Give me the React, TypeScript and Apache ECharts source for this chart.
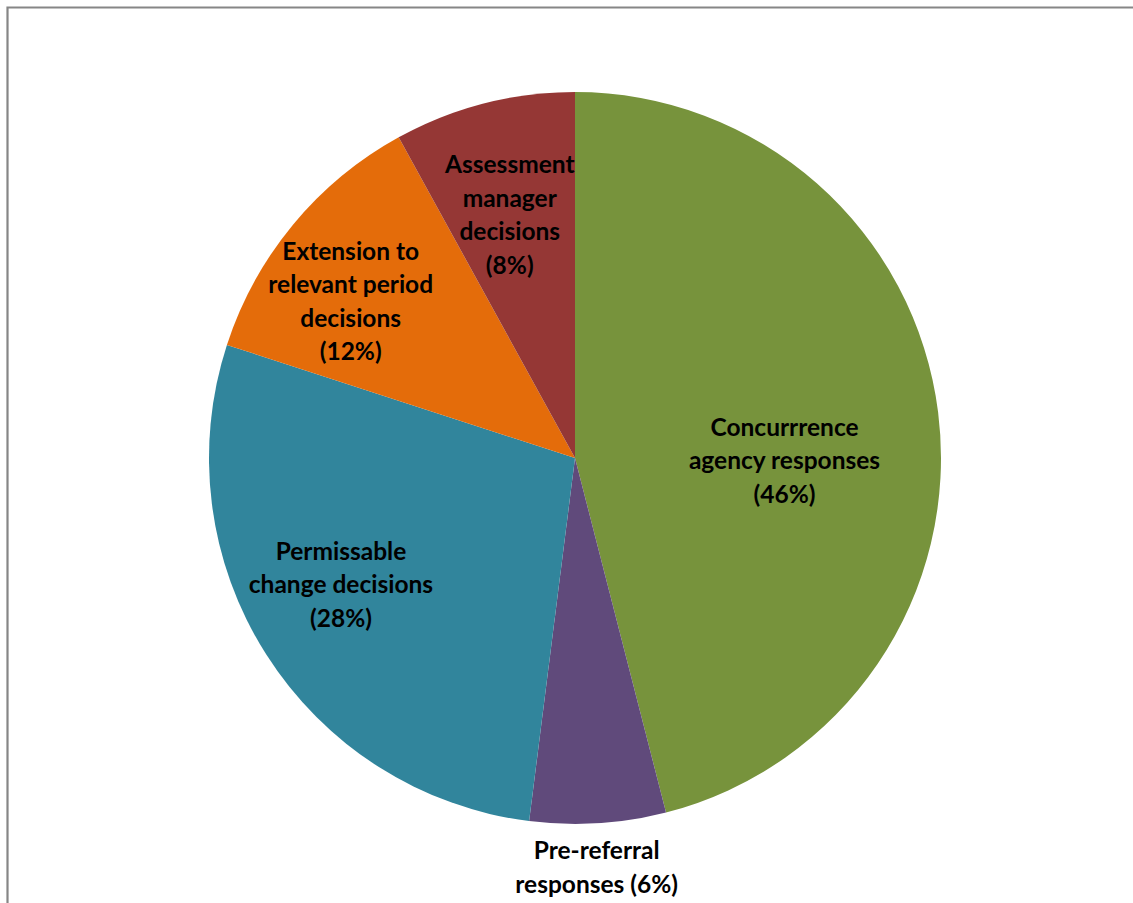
import React, { useEffect, useRef } from "react";
import * as echarts from "echarts";

const categories = [
  "Concurrrence agency responses",
  "Pre-referral responses",
  "Permissable change decisions",
  "Extension to relevant period decisions",
  "Assessment manager decisions",
];
const values = [46, 6, 28, 12, 8];
const labelLines = [
  ["Concurrrence", "agency responses", "(46%)"],
  ["Pre-referral", "responses (6%)"],
  ["Permissable", "change decisions", "(28%)"],
  ["Extension to", "relevant period", "decisions", "(12%)"],
  ["Assessment", "manager", "decisions", "(8%)"],
];
const colors = ["#77933C", "#604A7B", "#31859C", "#E46C0A", "#953735"];
const labelOffsets: [number, number][] = [
  [25, 25],
  [10, 223],
  [-77, 26],
  [-81, -39],
  [-19, -64],
];

export default function App() {
  const ref = useRef<HTMLDivElement>(null);
  useEffect(() => {
    if (!ref.current) return;
    const chart = echarts.init(ref.current, null, { renderer: "svg" });
    chart.setOption({
      animation: false,
      backgroundColor: "#ffffff",
      graphic: [
        {
          type: "rect",
          shape: { x: 7.5, y: 7.5, width: 1200, height: 1000 },
          style: { fill: "none", stroke: "#868686", lineWidth: 2.2 },
          silent: true,
        },
      ],
      series: [
        {
          type: "pie",
          center: [575, 458],
          radius: 366,
          startAngle: 90,
          clockwise: true,
          avoidLabelOverlap: false,
          labelLine: { show: false },
          data: categories.map((name, i) => ({
            name,
            value: values[i],
            itemStyle: { color: colors[i] },
            label: {
              show: true,
              position: "inside",
              offset: labelOffsets[i],
              formatter: labelLines[i].join("\n"),
              color: "#000000",
              fontFamily: "Lato",
              fontWeight: "bold",
              fontSize: 24.5,
              lineHeight: 33.5,
              align: "center",
            },
          })),
        },
      ],
    });
    return () => chart.dispose();
  }, []);
  return (
    <div
      ref={ref}
      style={{ position: "fixed", left: 0, top: 0, width: 1133, height: 903 }}
    />
  );
}
